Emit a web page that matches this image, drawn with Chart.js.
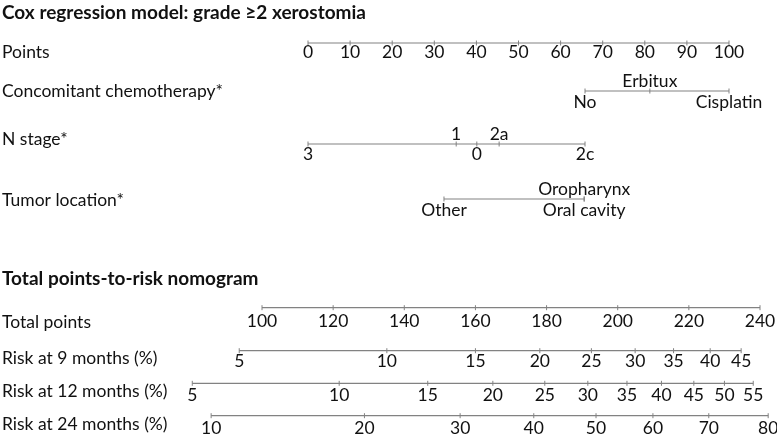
<!DOCTYPE html>
<html>
<head>
<meta charset="utf-8">
<script src="https://cdn.jsdelivr.net/npm/chart.js@4.4.1/dist/chart.umd.min.js"></script>
<style>
  body { margin: 0; background: #fff; }
  #wrap { width: 777px; height: 435px; }
</style>
</head>
<body>
<div id="wrap"><canvas id="myChart" width="777" height="435"></canvas></div>
<script>
// --- values ---
const pointsTicks = [0, 10, 20, 30, 40, 50, 60, 70, 80, 90, 100];

const chemoLevels = ['No', 'Erbitux', 'Cisplatin'];
const chemoPoints = [65.8, 81.2, 100];

const nStageLevels = ['3', '1', '0', '2a', '2c'];
const nStagePoints = [0, 35.2, 40.1, 45.4, 65.8];

const tumorLevels = ['Other', 'Oropharynx', 'Oral cavity'];
const tumorPoints = [32.3, 65.6, 65.6];

const totalTicks = [100, 120, 140, 160, 180, 200, 220, 240];

const risk9Ticks = [5, 10, 15, 20, 25, 30, 35, 40, 45];
const risk9Total = [93.6, 135.1, 160.0, 178.1, 192.6, 204.9, 215.7, 226.0, 234.7];

const risk12Ticks = [5, 10, 15, 20, 25, 30, 35, 40, 45, 50, 55];
const risk12Total = [80.4, 121.7, 146.6, 164.9, 179.5, 191.6, 202.6, 212.3, 221.4, 230.0, 238.1];

const risk24Ticks = [10, 20, 30, 40, 50, 60, 70, 80];
const risk24Total = [85.7, 128.8, 155.7, 176.4, 193.9, 209.9, 225.6, 242.3];

// --- layout ---
const lineColor = 'rgb(130,130,130)';
const font = 'Lato, "Open Sans", sans-serif';

const titles = [
  { text: 'Cox regression model: grade \u22652 xerostomia', y: 19 },
  { text: 'Total points-to-risk nomogram', y: 285 }
];

function row(label, labelY, lineY, axis, xs, texts, sides, below) {
  return { label, labelY, lineY, axis, xs, texts, sides, below };
}
const rows = [
  row('Points', 58, 43, 'pts', pointsTicks, pointsTicks.map(String), null, 15),
  row('Concomitant chemotherapy*', 97, 91, 'pts', chemoPoints, chemoLevels, ['b', 'a', 'b'], 17),
  row('N stage*', 145, 144, 'pts', nStagePoints, nStageLevels, ['b', 'a', 'b', 'a', 'b'], 16),
  row('Tumor location*', 206, 199, 'pts', tumorPoints, tumorLevels, ['b', 'a', 'b'], 17),
  row('Total points', 328, 307.7, 'tot', totalTicks, totalTicks.map(String), null, 19),
  row('Risk at 9 months (%)', 364, 350.7, 'tot', risk9Total, risk9Ticks.map(String), null, 16),
  row('Risk at 12 months (%)', 397, 383.3, 'tot', risk12Total, risk12Ticks.map(String), null, 18),
  row('Risk at 24 months (%)', 430, 415.7, 'tot', risk24Total, risk24Ticks.map(String), null, 18)
];

const datasets = rows.map(r => ({
  data: r.xs.map(v => ({ x: v, y: r.lineY })),
  xAxisID: r.axis,
  showLine: true,
  borderColor: lineColor,
  borderWidth: 1.2,
  pointStyle: 'line',
  rotation: 90,
  pointRadius: 2.5,
  pointBorderColor: lineColor,
  pointBorderWidth: 1,
  texts: r.texts,
  sides: r.sides,
  below: r.below,
  clip: false
}));

const textPlugin = {
  id: 'nomoText',
  afterDatasetsDraw(chart) {
    const ctx = chart.ctx;
    const y = chart.scales.y;
    ctx.save();
    ctx.fillStyle = '#111';
    ctx.textBaseline = 'alphabetic';
    ctx.font = 'bold 19px ' + font;
    ctx.textAlign = 'left';
    titles.forEach(t => ctx.fillText(t.text, 2, y.getPixelForValue(t.y)));
    ctx.font = '17.5px ' + font;
    rows.forEach(r => ctx.fillText(r.label, 2, y.getPixelForValue(r.labelY)));
    ctx.textAlign = 'center';
    chart.data.datasets.forEach((ds, i) => {
      const meta = chart.getDatasetMeta(i);
      meta.data.forEach((pt, j) => {
        const side = ds.sides ? ds.sides[j] : 'b';
        const ty = side === 'a' ? pt.y - 4 : pt.y + ds.below;
        ctx.fillText(ds.texts[j], pt.x, ty);
      });
    });
    ctx.restore();
  }
};

// points axis: 0 -> 308px, 100 -> 729px ; total points: 100 -> 262px, 240 -> 760px
const ptsScale = (729 - 308) / 100;
const totScale = (760 - 262) / 140;

new Chart(document.getElementById('myChart'), {
  type: 'scatter',
  data: { datasets },
  options: {
    responsive: false,
    animation: false,
    devicePixelRatio: 1,
    layout: { padding: 0, autoPadding: false },
    plugins: { legend: { display: false }, tooltip: { enabled: false } },
    scales: {
      pts: { type: 'linear', display: false, min: -308 / ptsScale, max: 100 + 48 / ptsScale },
      tot: { type: 'linear', display: false, min: 100 - 262 / totScale, max: 240 + 17 / totScale },
      y: { type: 'linear', display: false, reverse: true, min: 0, max: 435 }
    }
  },
  plugins: [textPlugin]
});
</script>
</body>
</html>
